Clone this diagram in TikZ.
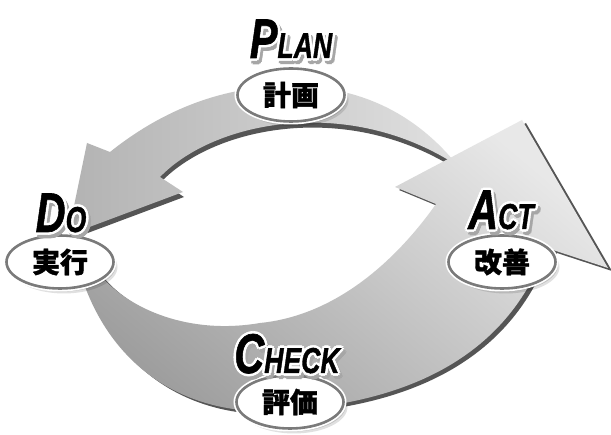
\documentclass[tikz,border=0pt]{standalone}
\usepackage{fontspec}
\usepackage{graphicx}
\setmainfont{Liberation Sans}
\newfontfamily\jpfont{Noto Sans CJK JP}[FakeBold=1.2]
\newfontfamily\titlefont{Liberation Sans}[FakeBold=1.2]
\usetikzlibrary{shapes.geometric}
\definecolor{shadowgray}{HTML}{555555}
\definecolor{ringgray}{HTML}{7A7A7A}
\newcommand\oc[3]{\rlap{\kern#1\raisebox{#2}{#3}}}
\newcommand\halotext[1]{{%
 \color{black!35}%
 \oc{2.5pt}{-3.5pt}{#1}\oc{4pt}{-2pt}{#1}\oc{1pt}{-5pt}{#1}\oc{4pt}{-5pt}{#1}\oc{5pt}{-3.5pt}{#1}\oc{2.5pt}{-6pt}{#1}%
 \color{white}%
 \oc{2.6pt}{0pt}{#1}\oc{-2.6pt}{0pt}{#1}\oc{0pt}{2.6pt}{#1}\oc{0pt}{-2.6pt}{#1}%
 \oc{1.8pt}{1.8pt}{#1}\oc{-1.8pt}{1.8pt}{#1}\oc{1.8pt}{-1.8pt}{#1}\oc{-1.8pt}{-1.8pt}{#1}%
 \color{black}#1}}
\newcommand\pdcaword[2]{\scalebox{0.74}[1]{\titlefont\bfseries\itshape\fontsize{56}{60}\selectfont#1\fontsize{36}{40}\selectfont#2}}
\tikzset{
  lbl/.style={anchor=base, inner sep=0pt},
  jpell/.style={ellipse, fill=white, draw=ringgray, line width=2.6pt,
    minimum width=107pt, minimum height=53pt, inner sep=0pt,
    font=\jpfont\bfseries\fontsize{28}{30}\selectfont,
    preaction={fill=black, opacity=0.12, transform canvas={shift={(4pt,-5pt)}}},
    preaction={fill=black, opacity=0.15, transform canvas={shift={(2.5pt,-3pt)}}},
    preaction={draw=white, line width=6pt}},
  extrude/.style={fill=shadowgray},
  topfill/.style={left color=black!30, right color=black!12},
  botfill/.style={top color=black!9, bottom color=black!38, shading angle=-40},
}
\begin{document}
\begin{tikzpicture}[x=1pt, y=-1pt]
\useasboundingbox (0,0) rectangle (611,435);
\fill[white] (0,0) rectangle (611,435);
% top arrow (PLAN -> DO)
\def\toparrow{(458,166) .. controls (405,100) and (340,86) .. (290,86)
  .. controls (210,86) and (150,120) .. (110,152) -- (87,143) -- (68,235)
  -- (183,192) -- (160,177) .. controls (215,120) and (350,95) .. (458,166) -- cycle}
\path[extrude, shift={(1,5)}] \toparrow;
\path[topfill] \toparrow;
% bottom arrow (DO -> CHECK -> ACT)
\def\botarrow{(80,272) .. controls (110,370) and (190,420) .. (290,410)
  .. controls (420,400) and (500,350) .. (538,268) -- (553,250) -- (608,268)
  -- (522,120) -- (395,187) -- (436,204)
  .. controls (400,255) and (340,315) .. (260,323)
  .. controls (190,335) and (130,310) .. (100,275) -- cycle}
\path[extrude, shift={(4,3)}] \botarrow;
\path[botfill] \botarrow;
% ellipses
\node[jpell] (planjp) at (291,95) {計画};
\node[jpell] (dojp) at (60,262) {実行};
\node[jpell] (actjp) at (502,262) {改善};
\node[jpell] (checkjp) at (290,402) {評価};
% titles
\node[lbl] (plan) at (291,58) {\halotext{\pdcaword{P}{LAN}}};
\node[lbl] (do) at (61,232) {\halotext{\pdcaword{D}{O}}};
\node[lbl] (act) at (501,229) {\halotext{\pdcaword{A}{CT}}};
\node[lbl] (check) at (287,373) {\halotext{\pdcaword{C}{HECK}}};
\end{tikzpicture}
\end{document}
